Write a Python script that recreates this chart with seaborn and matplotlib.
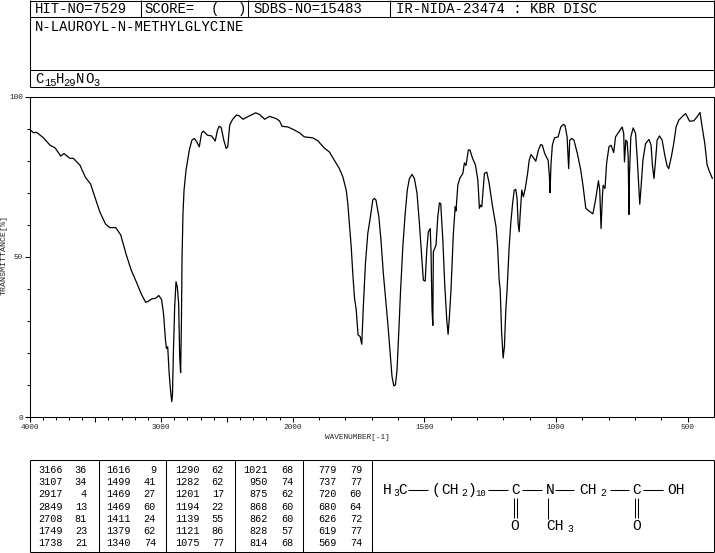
import numpy as np
import pandas as pd
import matplotlib
matplotlib.use("Agg")
import matplotlib.pyplot as plt
import seaborn as sns

wavenumber = [4000,3970,3945,3894,3844,3806,3763,3738,3693,3667,3617,3574,3536,3504,3466,3421,3390,3345,3307,3264,
 3227,3189,3151,3118,3101,3070,3043,3018,2997,2982,2967,2960,2950,2939,2929,2919,2914,2907,2897,2887,
 2877,2867,2859,2852,2846,2841,2834,2826,2811,2786,2766,2748,2730,2710,2693,2680,2647,2617,2589,2572,
 2559,2544,2524,2506,2494,2479,2458,2428,2408,2378,2332,2282,2252,2214,2176,2126,2101,2081,2038,2000,
 1975,1956,1924,1905,1880,1861,1842,1823,1810,1797,1791,1785,1778,1772,1766,1759,1752,1744,1738,1732,
 1724,1715,1706,1696,1690,1684,1673,1665,1656,1648,1639,1630,1623,1616,1610,1604,1597,1591,1582,1573,
 1565,1557,1547,1538,1528,1519,1510,1504,1497,1491,1485,1478,1475,1471,1468,1466,1456,1449,1443,1438,
 1430,1423,1415,1410,1405,1399,1390,1383,1380,1373,1365,1354,1348,1342,1333,1327,1317,1306,1297,1291,
 1287,1282,1272,1263,1254,1241,1228,1222,1216,1212,1207,1201,1196,1191,1186,1178,1172,1165,1159,1153,
 1148,1144,1140,1136,1130,1124,1117,1108,1102,1095,1086,1077,1067,1058,1052,1043,1030,1025,1023,1019,
 1014,1006,992,982,972,966,958,952,948,940,932,919,906,897,887,875,860,850,839,834,
 829,824,821,814,808,799,791,781,774,761,749,743,740,735,730,726,723,721,716,707,
 698,692,685,682,677,670,660,647,639,634,628,622,616,607,597,587,578,572,562,553,
 544,534,521,508,493,477,464,453,445,435,426,417,406]
transmittance = [89.8,88.7,88.8,87.1,84.8,84.0,81.4,82.2,80.7,80.7,78.6,74.7,72.7,68.7,64.0,60.1,59.1,59.1,56.8,50.5,
 45.8,42.2,38.4,35.8,36.0,36.9,37.0,37.9,36.7,32.3,24.0,21.4,21.9,13.6,8.4,4.8,6.9,19.9,34.4,42.2,
 40.6,35.4,18.8,13.8,29.2,50.0,63.5,70.8,77.0,83.3,86.4,86.9,85.9,84.3,88.5,89.2,87.9,87.7,86.1,89.5,
 90.7,90.3,86.4,83.8,84.3,91.1,92.8,94.2,94.0,92.9,93.9,94.9,94.4,92.9,93.8,93.1,92.4,90.7,90.5,89.8,
 88.7,87.4,87.1,86.2,83.9,82.7,80.1,77.5,75.0,70.8,66.6,60.4,53.1,44.8,37.5,33.4,25.6,25.1,22.7,34.4,
 47.9,57.3,62.0,67.7,68.2,67.7,62.5,55.2,44.8,37.5,29.2,19.9,12.6,9.7,10.0,14.7,27.1,38.6,53.1,63.5,
 70.8,74.4,75.7,74.4,69.8,60.4,50.0,42.7,42.4,52.1,57.8,58.8,52.1,33.4,28.6,51.6,53.6,62.5,66.8,66.6,
 55.2,41.7,30.2,25.8,31.3,39.6,57.3,65.6,64.3,72.4,74.6,76.0,79.3,78.5,83.3,83.3,80.7,78.6,73.9,65.1,
 66.1,65.6,76.0,76.4,72.9,65.6,59.4,53.1,42.7,39.6,27.0,18.4,22.0,33.0,39.6,53.1,60.4,66.6,70.8,71.0,
 68.2,60.4,57.8,63.5,70.8,68.7,71.3,76.0,80.1,81.9,80.9,79.8,83.3,85.0,84.8,82.2,80.1,74.9,70.0,79.1,
 84.8,87.1,87.4,90.5,91.3,91.0,87.4,77.5,86.4,86.9,86.4,82.2,77.0,71.8,65.1,64.3,63.4,67.7,73.7,70.8,
 58.8,68.7,72.3,71.3,79.1,84.3,84.8,82.5,87.4,89.0,90.5,88.5,79.6,86.4,85.9,81.2,63.2,76.0,87.4,90.2,
 88.5,81.2,70.8,66.4,71.8,80.1,85.3,86.6,84.8,78.6,74.4,80.1,86.4,87.7,86.4,81.7,78.3,77.5,81.2,85.3,
 90.5,92.6,93.7,94.7,92.3,92.4,93.7,95.0,90.5,85.3,78.6,76.5,74.4]

peak_wavenumbers = [[3166,3107,2917,2849,2708,1749,1738],[1616,1499,1469,1469,1411,1379,1340],
                    [1290,1282,1201,1194,1139,1121,1075],[1021,950,875,868,862,828,814],
                    [779,737,720,680,626,619,569]]
peak_values = [[36,34,4,13,81,23,21],[9,41,27,60,24,62,74],[62,62,17,22,55,86,77],
               [68,74,62,60,60,57,68],[79,77,60,64,72,77,74]]

W, H = 715, 553
sns.set_style("white")
plt.rcParams["font.family"] = ["Liberation Mono", "DejaVu Sans Mono"]
LW = 0.75

fig = plt.figure(figsize=(W/100, H/100), dpi=100, facecolor="white")

pg = fig.add_axes([0, 0, 1, 1]); pg.set_xlim(0, W); pg.set_ylim(H, 0); pg.axis("off")
def ln(x0, y0, x1, y1, lw=LW):
    pg.plot([x0, x1], [y0, y1], color="black", lw=lw, solid_capstyle="butt")
def tx(x, y, s, size=10, ha="left", **kw):
    pg.text(x, y, s, fontsize=size, ha=ha, va="center", color="black", **kw)

# header
for y in [0.5, 17, 69.5, 87]:
    ln(29.5, y, 714, y)
ln(29.5, 0, 29.5, 87); ln(714, 0, 714, 87)
for x in [141, 248, 390]:
    ln(x, 0, x, 17)
tx(35, 9, "HIT-NO=7529")
tx(144, 9, "SCORE=")
tx(211, 9, "(")
tx(238, 9, ")")
tx(253, 9, "SDBS-NO=15483")
tx(396, 9, "IR-NIDA-23474 : KBR DISC")
tx(35, 27, "N-LAUROYL-N-METHYLGLYCINE")
for x, y, s in [(35,79,"C"),(44,83.5,"15"),(56,79,"H"),(63,83.5,"29"),(76,79,"N"),(85,79,"O"),(93,83.5,"3")]:
    tx(x, y, s, size=10 if y == 79 else 7.5)

# peak table
ln(29.5, 460, 714, 460); ln(29.5, 552, 714, 552)
ln(29.5, 460, 29.5, 552); ln(714, 460, 714, 552)
for x in [98.5, 166, 235, 303, 372]:
    ln(x, 460, x, 552)
num_right = [62.5, 131, 199.5, 268, 337]
val_right = [87, 156, 224, 293.5, 362]
row_y = [470, 482, 494, 506.5, 519, 531, 543.5]
for c in range(5):
    for r in range(7):
        tx(num_right[c], row_y[r], str(peak_wavenumbers[c][r]), size=7.3, ha="right")
        tx(val_right[c], row_y[r], str(peak_values[c][r]), size=7.3, ha="right")

# structure
sf = 10.5
y0 = 490
tx(383, y0, "H", sf); tx(393.5, y0+3.5, "3", 7); tx(398.5, y0, "C", sf)
ln(408, y0, 428, y0)
tx(431, y0, "(", sf); tx(441, y0, "CH", sf); tx(461, y0+3.5, "2", 7); tx(468, y0, ")", sf); tx(475.5, y0+4, "10", 6.5)
ln(488, y0, 508, y0)
tx(515.5, y0, "C", sf, ha="center")
ln(522, y0, 542, y0)
tx(550, y0, "N", sf, ha="center")
ln(555, y0, 574, y0)
tx(579, y0, "CH", sf); tx(600, y0+3.5, "2", 7)
ln(610, y0, 629, y0)
tx(636.5, y0, "C", sf, ha="center")
ln(643, y0, 663, y0)
tx(667, y0, "OH", sf)
for x in [513.5, 516.5, 635, 638]:
    ln(x, 498, x, 518)
tx(515, 525.5, "O", sf, ha="center")
tx(636.5, 525.5, "O", sf, ha="center")
ln(547.5, 498, 547.5, 519)
tx(546, 526, "CH", sf); tx(567, 529.5, "3", 7)

# spectrum
ax = fig.add_axes([29.5/W, (H-417)/H, (714-29.5)/W, (417-96.5)/H], facecolor="none")
df = pd.DataFrame({"wavenumber": wavenumber, "transmittance": transmittance})
def fwd(w):
    w = np.asarray(w, dtype=float)
    return np.where(w > 2000, 2000 + (w-2000)/2, w)
def inv(v):
    v = np.asarray(v, dtype=float)
    return np.where(v > 2000, 2000 + (v-2000)*2, v)
sns.lineplot(data=df, x="wavenumber", y="transmittance", sort=False, estimator=None,
             color="black", lw=0.9, ax=ax, legend=False)
ax.set_xscale("function", functions=(fwd, inv))
ax.set_xlim(4000, 400)
ax.set_ylim(0, 100)
ax.set_xticks([4000, 3500, 3000, 2500, 2000, 1500, 1000, 500])
ax.set_xticklabels(["4000", "", "3000", "", "2000", "1500", "1000", "500"])
ax.set_xticks([w for w in range(3900, 400, -100) if w % 500], minor=True)
ax.set_yticks([0, 50, 100]); ax.set_yticklabels(["0", "50", "100"])
ax.set_yticks([v for v in range(10, 100, 10) if v != 50], minor=True)
ax.tick_params(axis="both", which="major", length=3.6, width=LW, labelsize=5.6, pad=1.2, color="black")
ax.tick_params(axis="both", which="minor", length=2.2, width=LW, color="black")
ax.tick_params(axis="both", which="both", bottom=True, left=True, top=False, right=False)
for s in ax.spines.values():
    s.set_linewidth(LW); s.set_color("black"); s.set_visible(True)
ax.grid(False)
ax.set_xlabel("WAVENUMBER[-1]", fontsize=5.6, labelpad=1.5)
ax.set_ylabel("TRANSMITTANCE[%]", fontsize=6, labelpad=0)
ax.yaxis.set_label_coords(-21.5/(714-29.5), (417-255)/(417-96.5))
ax.xaxis.set_label_coords((357.5-29.5)/(714-29.5), -17/(417-96.5))
fig.savefig("out.png", dpi=100, facecolor="white")
